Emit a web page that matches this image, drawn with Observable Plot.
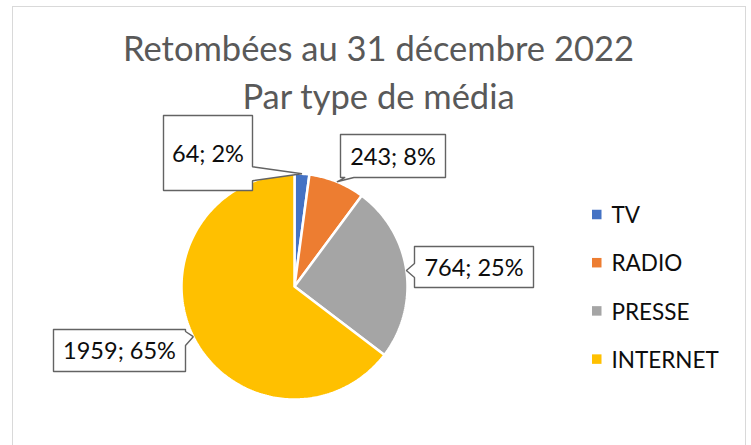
<!DOCTYPE html>
<html>
<head>
<meta charset="utf-8">
<script src="https://cdn.jsdelivr.net/npm/d3@7"></script>
<script src="https://cdn.jsdelivr.net/npm/@observablehq/plot@0.6"></script>
<style>
  html, body { margin: 0; padding: 0; background: #fff; width: 751px; height: 445px; overflow: hidden; }
  #frame { position: absolute; left: 12px; top: 6px; width: 732px; height: 460px; border: 1px solid #d9d9d9; pointer-events: none; }
  #title { position: relative; height: 100px; padding-top: 24px; box-sizing: border-box; text-align: center; font-family: Lato, sans-serif; font-size: 34.5px; line-height: 48px; color: #595959; padding-left: 6px; white-space: nowrap; }
  #chart { position: relative; }
  #chart svg { background: transparent; overflow: visible; }
</style>
</head>
<body>
<div id="frame"></div>
<div id="title">Retombées au 31 décembre 2022<br>Par type de média</div>
<div id="chart"></div>
<script>
// ---- data ----
const categories = ["TV", "RADIO", "PRESSE", "INTERNET"];
const values = [64, 243, 764, 1959];
const colors = ["#4472C4", "#ED7D31", "#A5A5A5", "#FFC000"];

// ---- layout (pixels within the svg) ----
const W = 751, H = 345;
const cx = 294, cy = 186, R = 113;
// callout boxes [x0, y0, x1, y1] and the side the pointer leaves from
const calloutBoxes = [[163, 15, 252, 90], [340, 34, 445, 77], [414, 146, 533, 187], [53, 229, 185, 271]];
const calloutSides = ["right", "bottom", "left", "right"];
const legendX = 592, legendTop = 114.5, legendStep = 48.2, swatch = 9.5;

const total = d3.sum(values);
const arcs = d3.pie().sort(null).value(d => d)(values);

// slice polygons
const slicePts = [];
arcs.forEach((a, i) => {
  const cat = categories[i];
  slicePts.push({cat, x: cx, y: cy});
  const n = Math.max(2, Math.ceil((a.endAngle - a.startAngle) / (Math.PI / 180)));
  for (let k = 0; k <= n; k++) {
    const t = a.startAngle + (a.endAngle - a.startAngle) * k / n;
    slicePts.push({cat, x: cx + R * Math.sin(t), y: cy - R * Math.cos(t)});
  }
  slicePts.push({cat, x: cx, y: cy});
});

// callouts
const labels = values.map(v => `${v}; ${Math.round(v / total * 100)}%`);
const calloutPts = [];
const labelPos = [];
arcs.forEach((a, i) => {
  const mid = (a.startAngle + a.endAngle) / 2;
  const tx = cx + R * Math.sin(mid), ty = cy - R * Math.cos(mid);
  const [x0, y0, x1, y1] = calloutBoxes[i];
  const hw = 7, m = 2;
  const clamp = (v, lo, hi) => Math.max(lo, Math.min(hi, v));
  const side = calloutSides[i];
  let pts;
  if (side === "right") {
    const c = clamp(ty, y0 + hw + m, y1 - hw - m);
    pts = [[x0, y0], [x1, y0], [x1, c - hw], [tx, ty], [x1, c + hw], [x1, y1], [x0, y1], [x0, y0]];
  } else if (side === "left") {
    const c = clamp(ty, y0 + hw + m, y1 - hw - m);
    pts = [[x0, y0], [x1, y0], [x1, y1], [x0, y1], [x0, c + hw], [tx, ty], [x0, c - hw], [x0, y0]];
  } else if (side === "bottom") {
    const c = clamp(tx, x0 + hw + m, x1 - hw - m);
    pts = [[x0, y0], [x1, y0], [x1, y1], [c + hw / 1.6, y1], [tx, ty], [c - hw / 1.6, y1], [x0, y1], [x0, y0]];
  } else {
    const c = clamp(tx, x0 + hw + m, x1 - hw - m);
    pts = [[x0, y0], [c - hw, y0], [tx, ty], [c + hw, y0], [x1, y0], [x1, y1], [x0, y1], [x0, y0]];
  }
  pts.forEach(([x, y]) => calloutPts.push({id: i, x, y}));
  labelPos.push({label: labels[i], x: (x0 + x1) / 2, y: (y0 + y1) / 2});
});

const legendData = categories.map((c, i) => ({cat: c, y: legendTop + i * legendStep}));

const plot = Plot.plot({
  width: W,
  height: H,
  margin: 0,
  x: {domain: [0, W], range: [0, W], axis: null},
  y: {domain: [0, H], range: [0, H], axis: null},
  color: {domain: categories, range: colors},
  style: {fontFamily: "Lato, sans-serif", background: "transparent"},
  marks: [
    Plot.line(slicePts, {x: "x", y: "y", z: "cat", fill: "cat", stroke: "white", strokeWidth: 2.5, strokeLinejoin: "miter", curve: "linear"}),
    Plot.line(calloutPts, {x: "x", y: "y", z: "id", fill: "white", stroke: "#636363", strokeWidth: 1.4, strokeLinejoin: "miter", curve: "linear"}),
    Plot.text(labelPos, {x: "x", y: "y", text: "label", fontSize: 23.5, fill: "#0d0d0d", textAnchor: "middle", dy: 1}),
    Plot.rect(legendData, {x1: () => legendX, x2: () => legendX + swatch, y1: d => d.y - swatch / 2, y2: d => d.y + swatch / 2, fill: "cat"}),
    Plot.text(legendData, {x: () => legendX + 19, y: "y", text: "cat", fontSize: 22.5, fill: "#0d0d0d", textAnchor: "start", dy: 1})
  ]
});
document.getElementById("chart").appendChild(plot);
</script>
</body>
</html>
